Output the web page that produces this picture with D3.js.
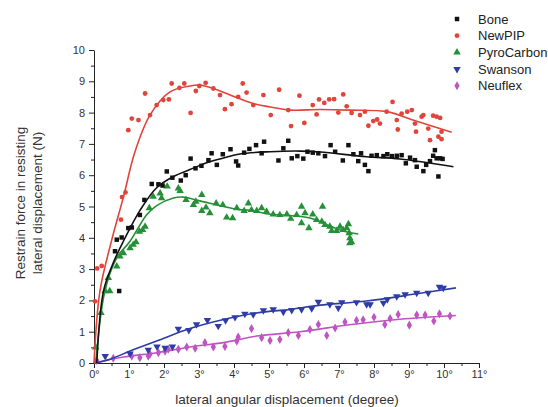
<!DOCTYPE html>
<html>
<head>
    <title>Restrain force vs lateral angular displacement</title>
    <script src="https://d3js.org/d3.v7.min.js"></script>
    <style>
        body { margin: 0; padding: 0; background: #fff; font-family: "Liberation Sans", Arial, sans-serif; }
        svg { display: block; }
        .axis path, .axis line { stroke: #222; }
        .axis text { font-family: "Liberation Sans", Arial, sans-serif; font-size: 11px; fill: #333; }
        .title { font-family: "Liberation Sans", Arial, sans-serif; font-size: 13.5px; fill: #333; }
        .legend text { font-family: "Liberation Sans", Arial, sans-serif; font-size: 13px; fill: #222; }
    </style>
</head>
<body>
    <div id="chart"></div>

    <script>
        // series names and colours
        const seriesNames = ["Bone", "NewPIP", "PyroCarbon", "Swanson", "Neuflex"];
        const seriesColors = ["#111111", "#e0443b", "#259038", "#2e3ca6", "#bf55c2"];

        // measured points [degree, N]
        const bonePoints = [[0.6,3.57],[0.65,3.94],[0.72,2.3],[0.79,4.01],[0.98,4.31],[1.08,4.33],[1.31,4.73],[1.44,5.21],[1.65,5.72],[1.84,5.71],[1.96,5.67],[2.08,6.12],[2.24,5.92],[2.48,5.83],[2.62,6.0],[2.76,6.53],[2.9,6.22],[3.07,6.3],[3.27,6.48],[3.36,6.7],[3.51,6.33],[3.68,6.67],[3.9,6.83],[4.06,6.44],[4.12,6.31],[4.29,6.72],[4.44,6.84],[4.63,6.96],[4.79,6.7],[4.86,7.07],[5.27,6.47],[5.41,6.86],[5.55,7.1],[5.65,6.54],[5.81,6.61],[5.98,6.53],[6.1,6.75],[6.25,6.72],[6.41,6.7],[6.6,6.61],[6.76,6.96],[6.89,6.75],[7.11,6.47],[7.27,6.96],[7.41,6.67],[7.55,6.45],[7.63,6.7],[7.74,6.33],[7.84,6.13],[7.93,6.62],[8.08,6.64],[8.27,6.61],[8.38,6.67],[8.51,6.61],[8.65,6.62],[8.79,6.64],[8.91,6.38],[9.03,6.56],[9.17,6.48],[9.22,6.27],[9.41,6.13],[9.49,6.33],[9.6,6.45],[9.69,6.62],[9.74,6.8],[9.79,6.54],[9.84,5.96],[9.89,6.54],[9.96,6.52]];
        const newPipPoints = [[0.03,1.97],[0.09,3.02],[0.22,3.1],[0.77,4.58],[0.8,5.3],[0.9,5.45],[0.98,7.44],[1.08,7.81],[1.27,7.76],[1.46,8.61],[1.6,7.92],[1.79,8.24],[1.98,8.4],[2.14,8.42],[2.22,8.93],[2.44,8.79],[2.58,8.93],[2.76,7.99],[2.91,8.69],[3.01,8.85],[3.19,8.95],[3.41,8.77],[3.6,8.56],[3.74,8.11],[3.93,8.27],[4.12,8.5],[4.25,8.93],[4.36,8.64],[4.55,8.24],[4.84,8.56],[5.05,7.92],[5.29,8.73],[5.55,8.08],[5.63,7.57],[5.87,8.54],[6.01,7.67],[6.25,8.24],[6.36,7.94],[6.43,8.42],[6.58,8.31],[6.72,8.42],[6.86,8.43],[6.98,8.0],[7.12,8.58],[7.22,8.2],[7.36,7.99],[7.6,7.92],[7.74,8.03],[7.84,7.58],[7.98,7.73],[8.09,7.78],[8.17,7.65],[8.36,8.03],[8.53,8.34],[8.65,7.76],[8.68,7.46],[8.79,7.97],[8.95,8.03],[9.08,8.08],[9.17,7.65],[9.2,7.39],[9.36,7.87],[9.41,7.92],[9.55,7.49],[9.6,7.12],[9.69,7.9],[9.79,7.87],[9.84,7.23],[9.89,7.83],[9.93,7.39],[9.93,7.15]];
        const pyroPoints = [[0.05,0.5],[0.2,1.6],[0.32,2.3],[0.41,2.72],[0.45,2.3],[0.65,3.09],[0.74,3.41],[0.84,3.51],[1.03,3.67],[1.12,3.78],[1.2,3.86],[1.3,4.2],[1.39,4.25],[1.46,4.36],[1.58,4.95],[1.69,5.32],[1.89,5.42],[1.93,5.27],[2.09,5.64],[2.41,5.58],[2.46,5.5],[2.63,5.21],[2.84,5.05],[2.91,5.16],[3.08,5.37],[3.08,4.86],[3.2,4.97],[3.31,4.79],[3.49,5.1],[3.68,5.05],[3.79,4.65],[3.96,4.63],[4.08,4.95],[4.29,4.86],[4.41,5.1],[4.5,4.89],[4.65,4.86],[4.79,4.95],[4.93,4.84],[5.12,4.75],[5.31,4.73],[5.51,4.75],[5.62,4.61],[5.79,4.73],[5.93,5.0],[5.93,4.47],[6.03,4.79],[6.14,4.31],[6.25,4.75],[6.36,4.57],[6.51,4.52],[6.53,5.0],[6.6,4.41],[6.74,4.36],[6.79,4.22],[6.93,4.22],[7.03,4.36],[7.12,4.25],[7.22,4.31],[7.27,4.44],[7.29,4.15],[7.31,3.99],[7.31,3.83],[7.36,3.86]];
        const swansonPoints = [[0.32,0.22],[1.03,0.3],[1.55,0.42],[1.8,0.52],[2.03,0.48],[2.24,0.52],[2.41,1.09],[2.71,1.05],[2.93,1.23],[3.24,1.37],[3.55,1.18],[3.76,1.36],[4.03,1.46],[4.31,1.57],[4.55,1.55],[4.84,1.68],[5.12,1.71],[5.41,1.63],[5.65,1.69],[5.93,1.71],[6.22,1.74],[6.41,1.95],[6.74,1.87],[6.98,1.76],[7.08,1.94],[7.5,1.94],[7.79,1.87],[7.89,1.87],[8.27,1.92],[8.38,2.03],[8.65,2.13],[8.89,2.19],[9.22,2.24],[9.55,2.24],[9.87,2.43],[9.98,2.4]];
        const neuflexPoints = [[0.08,0.08],[0.55,0.15],[1.08,0.22],[1.31,0.17],[1.55,0.22],[1.6,0.28],[1.84,0.33],[2.03,0.38],[2.12,0.44],[2.41,0.44],[2.65,0.51],[2.89,0.47],[3.17,0.65],[3.41,0.51],[3.74,0.53],[4.08,0.7],[4.12,0.83],[4.5,1.1],[4.79,0.81],[5.03,0.72],[5.31,0.75],[5.55,0.97],[5.84,0.88],[6.17,1.07],[6.41,1.23],[6.65,0.88],[6.89,1.12],[7.17,1.31],[7.5,1.36],[7.69,1.38],[8.0,1.46],[8.31,1.23],[8.46,1.42],[8.69,1.55],[9.01,1.21],[9.22,1.53],[9.46,1.53],[9.71,1.34],[9.87,1.57],[10.17,1.5]];

        // fitted curves [degree, N]
        const boneFit = [[0.08,0],[0.27,2.29],[0.55,3.2],[0.84,3.89],[1.31,4.87],[1.79,5.6],[2.27,5.96],[2.74,6.18],[3.22,6.4],[3.7,6.55],[4.17,6.68],[5.03,6.75],[5.89,6.77],[6.46,6.74],[7.79,6.59],[8.74,6.52],[10.27,6.27]];
        const newPipFit = [[0,0],[0.17,2.3],[0.5,3.9],[0.84,5.3],[1.17,6.75],[1.6,7.92],[2.17,8.66],[2.74,8.85],[3.0,8.88],[3.41,8.77],[3.89,8.56],[4.55,8.29],[5.03,8.18],[5.6,8.08],[6.46,8.1],[7.31,8.08],[8.36,8.03],[9.2,7.73],[10.22,7.37]];
        const pyroFit = [[0.05,0],[0.31,2.29],[0.65,3.36],[1.03,3.89],[1.5,4.73],[1.79,5.03],[2.27,5.27],[2.55,5.3],[3.03,5.18],[3.7,5.0],[4.17,4.9],[4.46,4.88],[5.03,4.75],[5.41,4.73],[6.17,4.63],[6.65,4.42],[7.12,4.22],[7.55,4.12]];
        const swansonFit = [[0.05,0],[0.46,0.12],[1.03,0.38],[1.79,0.7],[2.74,1.1],[3.7,1.39],[4.65,1.6],[5.6,1.71],[5.89,1.76],[6.46,1.85],[7.79,1.98],[9.22,2.21],[10.34,2.4]];
        const neuflexFit = [[0,0],[0.84,0.19],[1.79,0.33],[2.74,0.51],[3.7,0.65],[4.65,0.86],[5.89,1.0],[7.3,1.22],[8.74,1.4],[10.34,1.52]];

        const xTicks = d3.range(0, 12);
        const yTicks = d3.range(0, 11);

        const width = 548, height = 407;
        const margin = { left: 94, top: 50, right: 69, bottom: 44 };

        const svg = d3.select("#chart").append("svg")
            .attr("width", width)
            .attr("height", height);

        const x = d3.scaleLinear().domain([0, 11]).range([margin.left, width - margin.right]);
        const y = d3.scaleLinear().domain([0, 10]).range([height - margin.bottom, margin.top]);

        // minor ticks
        svg.append("g")
            .attr("class", "axis")
            .attr("transform", `translate(0,${y(0)})`)
            .call(d3.axisBottom(x).tickValues(d3.range(0.5, 11, 1)).tickSize(3).tickFormat(""))
            .call(g => g.select(".domain").remove());
        svg.append("g")
            .attr("class", "axis")
            .attr("transform", `translate(${x(0)},0)`)
            .call(d3.axisLeft(y).tickValues(d3.range(0.5, 10, 1)).tickSize(3).tickFormat(""))
            .call(g => g.select(".domain").remove());

        // major axes
        svg.append("g")
            .attr("class", "axis")
            .attr("transform", `translate(0,${y(0)})`)
            .call(d3.axisBottom(x).tickValues(xTicks).tickSize(5).tickSizeOuter(0).tickPadding(2).tickFormat(d => d + "°"));
        svg.append("g")
            .attr("class", "axis")
            .attr("transform", `translate(${x(0)},0)`)
            .call(d3.axisLeft(y).tickValues(yTicks).tickSize(5).tickSizeOuter(0).tickPadding(4).tickFormat(d3.format("d")));

        const series = [
            { name: seriesNames[0], color: seriesColors[0], points: bonePoints, fit: boneFit, symbol: d3.symbolSquare, size: 20, rot: 0 },
            { name: seriesNames[1], color: seriesColors[1], points: newPipPoints, fit: newPipFit, symbol: d3.symbolCircle, size: 18, rot: 0 },
            { name: seriesNames[2], color: seriesColors[2], points: pyroPoints, fit: pyroFit, symbol: d3.symbolTriangle, size: 24, rot: 0 },
            { name: seriesNames[3], color: seriesColors[3], points: swansonPoints, fit: swansonFit, symbol: d3.symbolTriangle, size: 24, rot: 180 },
            { name: seriesNames[4], color: seriesColors[4], points: neuflexPoints, fit: neuflexFit, symbol: d3.symbolDiamond, size: 24, rot: 0 }
        ];

        const line = d3.line()
            .x(d => x(d[0]))
            .y(d => y(d[1]))
            .curve(d3.curveCatmullRom.alpha(0.5));

        // draw the lower series first so Bone/NewPIP sit on top
        series.slice().reverse().forEach(s => {
            svg.append("path")
                .datum(s.fit)
                .attr("fill", "none")
                .attr("stroke", s.color)
                .attr("stroke-width", 1.6)
                .attr("d", line);

            svg.append("g")
                .selectAll("path")
                .data(s.points)
                .enter().append("path")
                .attr("d", d3.symbol().type(s.symbol).size(s.size))
                .attr("transform", d => `translate(${x(d[0])},${y(d[1])}) rotate(${s.rot})`)
                .attr("fill", s.color);
        });

        // legend
        const legend = svg.append("g").attr("class", "legend");
        series.forEach((s, i) => {
            const ly = 19 + i * 16.7;
            legend.append("path")
                .attr("d", d3.symbol().type(s.symbol).size(s.size))
                .attr("transform", `translate(457,${ly}) rotate(${s.rot})`)
                .attr("fill", s.color);
            legend.append("text")
                .attr("x", 478)
                .attr("y", ly + 4.5)
                .text(s.name);
        });

        // axis titles
        svg.append("text")
            .attr("class", "title")
            .attr("x", 287)
            .attr("y", 404)
            .attr("text-anchor", "middle")
            .text("lateral angular displacement (degree)");

        const yTitle = svg.append("text")
            .attr("class", "title")
            .attr("transform", "translate(25,203) rotate(-90)")
            .attr("text-anchor", "middle");
        yTitle.append("tspan").attr("x", 0).attr("dy", 0).text("Restrain force in resisting");
        yTitle.append("tspan").attr("x", 0).attr("dy", 17).text("lateral displacement (N)");
    </script>
</body>
</html>
